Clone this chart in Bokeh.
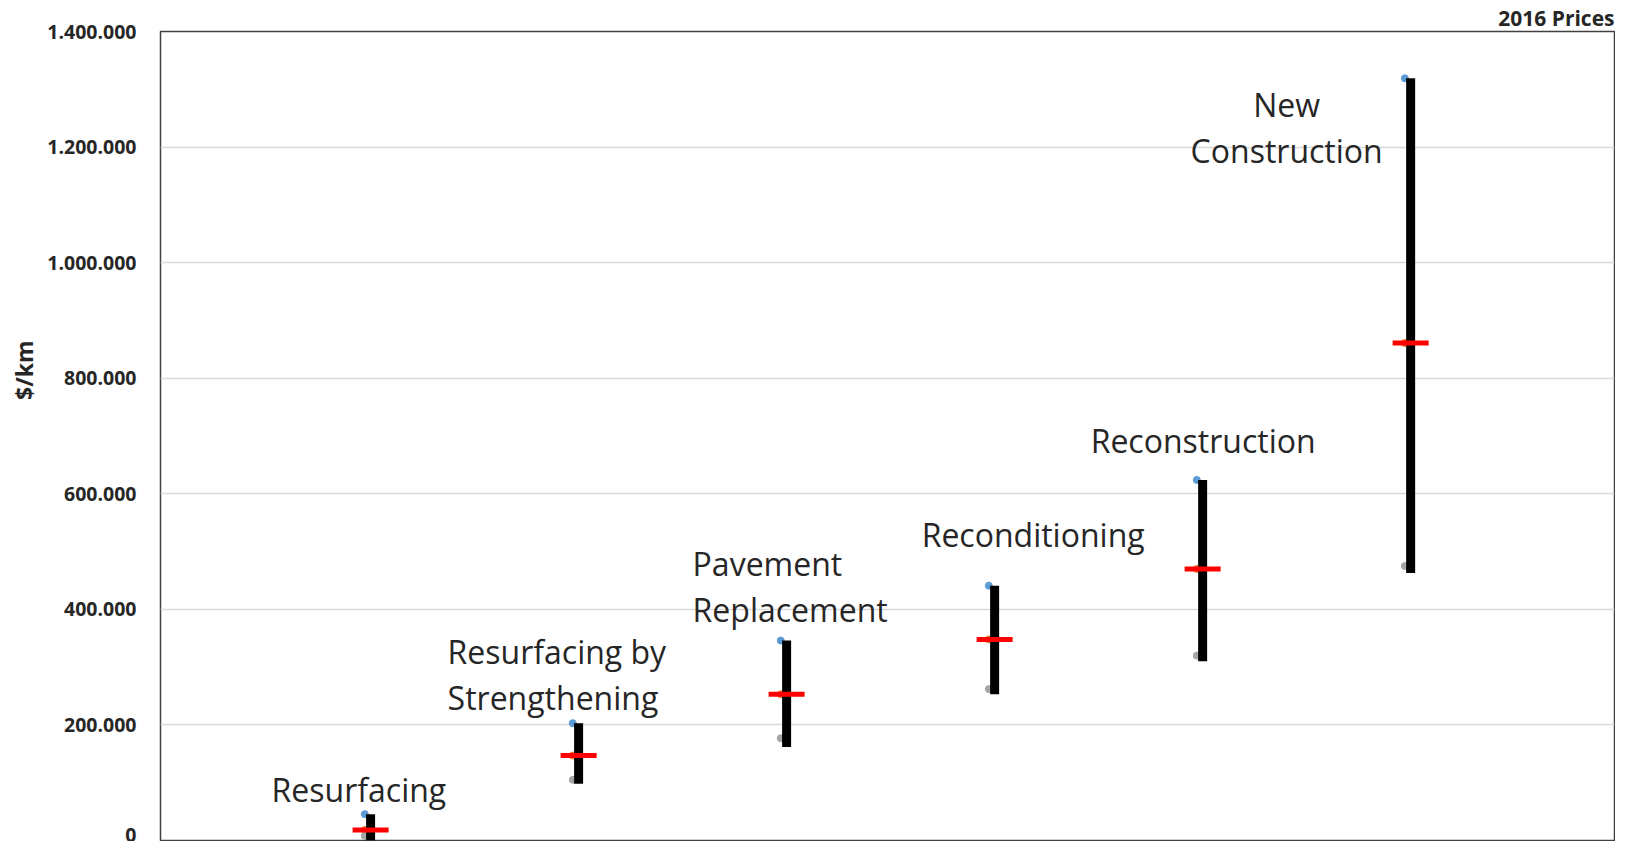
from bokeh.plotting import figure
from bokeh.models import Range1d, FixedTicker, ColumnDataSource, Title
from bokeh.transform import dodge
from bokeh.core.properties import value
from bokeh.embed import file_html
from bokeh.resources import INLINE

# ---- data ----
categories = ["Resurfacing", "Resurfacing by Strengthening", "Pavement Replacement",
              "Reconditioning", "Reconstruction", "New Construction"]
high_vals = [45600, 203000, 346000, 441000, 624000, 1319000]
mean_vals = [18300, 147000, 253000, 348000, 470000, 861000]
low_bar_vals = [0, 98000, 162000, 253000, 310000, 463000]
low_dot_vals = [8000, 105000, 177000, 262000, 320000, 475000]
label_lines = [["Resurfacing"], ["Resurfacing by", "Strengthening"], ["Pavement", "Replacement"],
               ["Reconditioning"], ["Reconstruction"], ["New", "Construction"]]
tick_values = [0, 200000, 400000, 600000, 800000, 1000000, 1200000, 1400000]
tick_labels = ["0", "200.000", "400.000", "600.000", "800.000", "1.000.000", "1.200.000", "1.400.000"]

# ---- layout / style (not data) ----
label_dx = [-99, -131, -94, -73, -112, -124]
label_dy = [-25, -72, -77, -51, -39, 26]
label_align = ["left", "left", "left", "left", "left", "center"]
line_gap = 46

xs = list(range(1, len(categories) + 1))
src = ColumnDataSource(dict(x=xs, high=high_vals, mean=mean_vals, low=low_bar_vals, lowdot=low_dot_vals))

p = figure(width=1615, height=841, output_backend="svg", toolbar_location=None,
           x_range=Range1d(-0.01, 6.98), y_range=Range1d(0, 1400000),
           x_axis_location=None,
           min_border_left=160, min_border_right=1, min_border_top=31, min_border_bottom=1,
           title="2016 Prices")
p.background_fill_color = "white"
p.border_fill_color = "white"
p.outline_line_color = "#404040"
p.outline_line_width = 1.5

p.title.align = "right"
p.title.text_font = "Open Sans"
p.title.text_font_size = "21px"
p.title.text_font_style = "bold"
p.title.text_color = "#262626"
p.title.standoff = 0

p.xgrid.visible = False
p.ygrid.grid_line_color = "#d9d9d9"
p.ygrid.grid_line_width = 1.5

ya = p.yaxis[0]
ya.ticker = FixedTicker(ticks=tick_values)
ya.major_label_overrides = {v: s for v, s in zip(tick_values, tick_labels)}
ya.axis_line_color = None
ya.major_tick_line_color = None
ya.minor_tick_line_color = None
ya.major_label_standoff = 18
ya.major_label_text_font = "Open Sans"
ya.major_label_text_font_size = "19.5px"
ya.major_label_text_font_style = "bold"
ya.major_label_text_color = "#262626"

ylab = Title(text="$/km", align="right", offset=309, text_font="Open Sans",
             text_font_size="23px", text_font_style="bold", text_color="#262626", standoff=10)
p.add_layout(ylab, "left")

# dots (slightly left of bar)
p.scatter(x=dodge("x", -0.028, range=p.x_range), y="high", source=src, size=7, color="#5b9bd5")
p.scatter(x=dodge("x", -0.028, range=p.x_range), y="mean", source=src, size=7, color="#ed7d31")
p.scatter(x=dodge("x", -0.028, range=p.x_range), y="lowdot", source=src, size=7, color="#a5a5a5")
# range bars
p.segment(x0="x", y0="low", x1="x", y1="high", source=src, line_width=9, line_color="black")
# mean marks
p.rect(x="x", y="mean", width=36, height=5, width_units="screen", height_units="screen",
       source=src, fill_color="#ff0000", line_color=None)

# labels
lx, ly, lt, lxo, lyo, la = [], [], [], [], [], []
for i, lines in enumerate(label_lines):
    for j, t in enumerate(lines):
        lx.append(xs[i]); ly.append(high_vals[i]); lt.append(t)
        lxo.append(label_dx[i]); lyo.append(label_dy[i] + j * line_gap); la.append(label_align[i])
lsrc = ColumnDataSource(dict(x=lx, y=ly, text=lt, xo=lxo, yo=lyo, align=la))
p.text(x="x", y="y", text="text", x_offset="xo", y_offset="yo", text_align="align",
       text_baseline="alphabetic", source=lsrc, text_font=value("Open Sans"),
       text_font_size="32px", text_color="#262626")

open("out.html", "w").write(file_html(p, INLINE))
